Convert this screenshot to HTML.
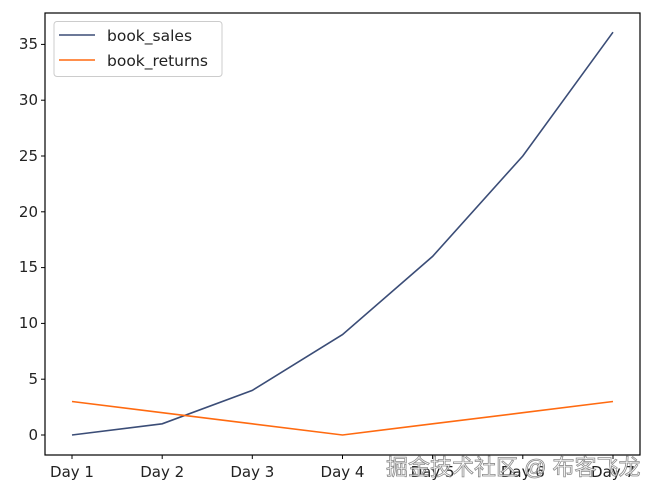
<!DOCTYPE html><html><head><style>body{margin:0;background:#fff}svg{display:block}text{font-family:"DejaVu Sans","Liberation Sans",sans-serif}</style></head><body>
<svg width="652" height="496" viewBox="0 0 652 496" xmlns="http://www.w3.org/2000/svg">
<rect width="652" height="496" fill="#fff"/>
<g font-size="15" fill="#222">
<g stroke="#000" stroke-width="1">
<line x1="41" x2="45" y1="435" y2="435"/><line x1="41" x2="45" y1="379.2" y2="379.2"/><line x1="41" x2="45" y1="323.4" y2="323.4"/><line x1="41" x2="45" y1="267.6" y2="267.6"/><line x1="41" x2="45" y1="211.8" y2="211.8"/><line x1="41" x2="45" y1="156" y2="156"/><line x1="41" x2="45" y1="100.2" y2="100.2"/><line x1="41" x2="45" y1="44.4" y2="44.4"/>
<line x1="72" x2="72" y1="455" y2="459"/><line x1="162.2" x2="162.2" y1="455" y2="459"/><line x1="252.3" x2="252.3" y1="455" y2="459"/><line x1="342.5" x2="342.5" y1="455" y2="459"/><line x1="432.6" x2="432.6" y1="455" y2="459"/><line x1="522.8" x2="522.8" y1="455" y2="459"/><line x1="613" x2="613" y1="455" y2="459"/>
</g>
<g text-anchor="end"><text x="38" y="440">0</text><text x="38" y="384">5</text><text x="38" y="328">10</text><text x="38" y="272">15</text><text x="38" y="217">20</text><text x="38" y="161">25</text><text x="38" y="105">30</text><text x="38" y="49">35</text></g>
<g text-anchor="middle"><text x="72" y="477">Day 1</text><text x="162.2" y="477">Day 2</text><text x="252.3" y="477">Day 3</text><text x="342.5" y="477">Day 4</text><text x="432.6" y="477">Day 5</text><text x="522.8" y="477">Day 6</text><text x="613" y="477">Day 7</text></g>
</g>
<polyline fill="none" stroke="#3b4d77" stroke-width="1.6" points="72,435 162.2,423.8 252.3,390.4 342.5,334.6 432.6,256.4 522.8,156 613,32.2"/>
<polyline fill="none" stroke="#ff6a10" stroke-width="1.6" points="72,401.5 162.2,412.7 252.3,423.8 342.5,435 432.6,423.8 522.8,412.7 613,401.5"/>
<rect x="45" y="13" width="595" height="442" fill="none" stroke="#000" stroke-width="1.2"/>
<rect x="54" y="21.5" width="168" height="55" rx="3" fill="#fff" fill-opacity="0.8" stroke="#ccc"/>
<line x1="59" x2="95" y1="35" y2="35" stroke="#3b4d77" stroke-width="1.6"/>
<line x1="59" x2="95" y1="60" y2="60" stroke="#ff6a10" stroke-width="1.6"/>
<text x="107" y="41" font-size="15.5" fill="#222">book_sales</text>
<text x="107" y="66" font-size="15.5" fill="#222">book_returns</text>
<text x="386" y="475" font-size="22" fill="#fff" stroke="#777" stroke-width="0.8" style='font-family:"Liberation Sans","Noto Sans CJK SC",sans-serif' opacity="0.85">掘金技术社区 @ 布客飞龙</text>
</svg></body></html>
